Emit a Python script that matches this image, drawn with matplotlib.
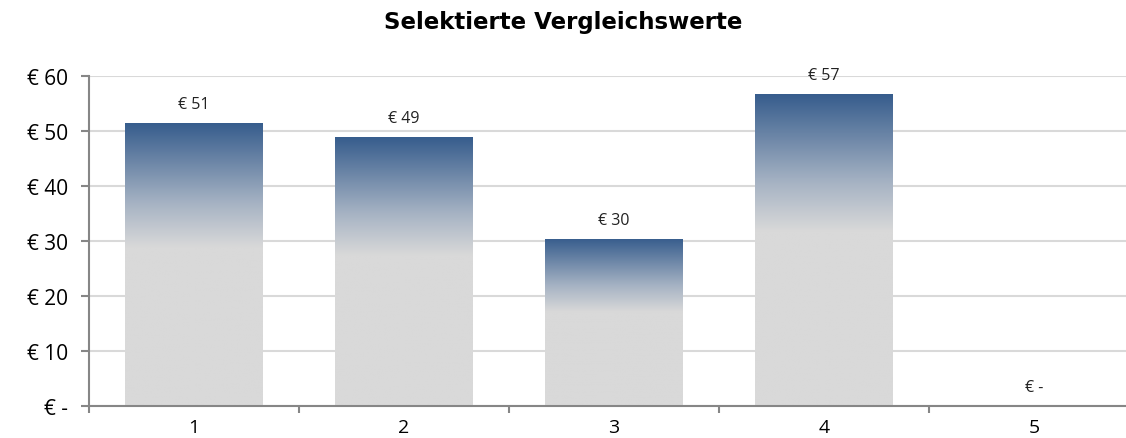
import numpy as np
import matplotlib.pyplot as plt
from matplotlib.colors import LinearSegmentedColormap
from matplotlib.patches import Rectangle

# Data
categories = ['1', '2', '3', '4', '5']
values = [51.4, 48.9, 30.4, 56.7, 0.0]
labels = ['€ 51', '€ 49', '€ 30', '€ 57', '€ -']
yticks = [0, 10, 20, 30, 40, 50, 60]
yticklabels = ['€ -', '€ 10', '€ 20', '€ 30', '€ 40', '€ 50', '€ 60']

plt.rcParams['font.family'] = ['Open Sans', 'DejaVu Sans']

fig = plt.figure(figsize=(11.26, 4.39), dpi=100)
ax = fig.add_axes([89/1126, 32/439, 1050/1126, 330/439])

# gradient: blue at top, grey from ~42% down
cmap = LinearSegmentedColormap.from_list(
    'bargrad', [(0.0, '#D9D9D9'), (0.56, '#D9D9D9'), (0.72, '#A5B2C3'), (1.0, '#375D8D')])
grad = np.linspace(0, 1, 256).reshape(-1, 1)

x = np.arange(1, len(values) + 1)
width = 0.657
for xi, v, lab in zip(x, values, labels):
    if v > 0:
        rect = Rectangle((xi - width/2, 0), width, v, facecolor='none', edgecolor='none')
        ax.add_patch(rect)
        im = ax.imshow(grad, cmap=cmap, origin='lower', aspect='auto',
                       extent=(xi - width/2, xi + width/2, 0, v), zorder=2)
        im.set_clip_path(rect)
    ax.text(xi, v + 2.0, lab, ha='center', va='bottom', fontsize=11.5, color='#222222')

ax.set_xlim(0.5, 5.5)
ax.set_ylim(0, 60)
ax.set_yticks(yticks)
ax.set_yticklabels(yticklabels, fontsize=15)
ax.set_xticks(x)
ax.set_xticklabels(categories, fontsize=14)
ax.set_xticks(np.arange(0.5, 6.0, 1.0), minor=True)
ax.tick_params(axis='x', which='major', length=0, pad=9)
ax.tick_params(axis='x', which='minor', length=5, width=1.5, color='#868686', direction='out')
ax.tick_params(axis='y', length=6, width=1.5, color='#868686', pad=9)

ax.yaxis.grid(True, color='#D9D9D9', linewidth=1.5, zorder=0)
ax.set_axisbelow(True)
for s in ['top', 'right']:
    ax.spines[s].set_visible(False)
for s in ['left', 'bottom']:
    ax.spines[s].set_color('#868686')
    ax.spines[s].set_linewidth(1.5)
    ax.spines[s].set_zorder(3)

fig.text(563/1126, 1 - 22/439, 'Selektierte Vergleichswerte', ha='center', va='center',
         fontsize=16.5, fontweight='bold', family=['DejaVu Sans'])

fig.savefig('out.png', dpi=100)
